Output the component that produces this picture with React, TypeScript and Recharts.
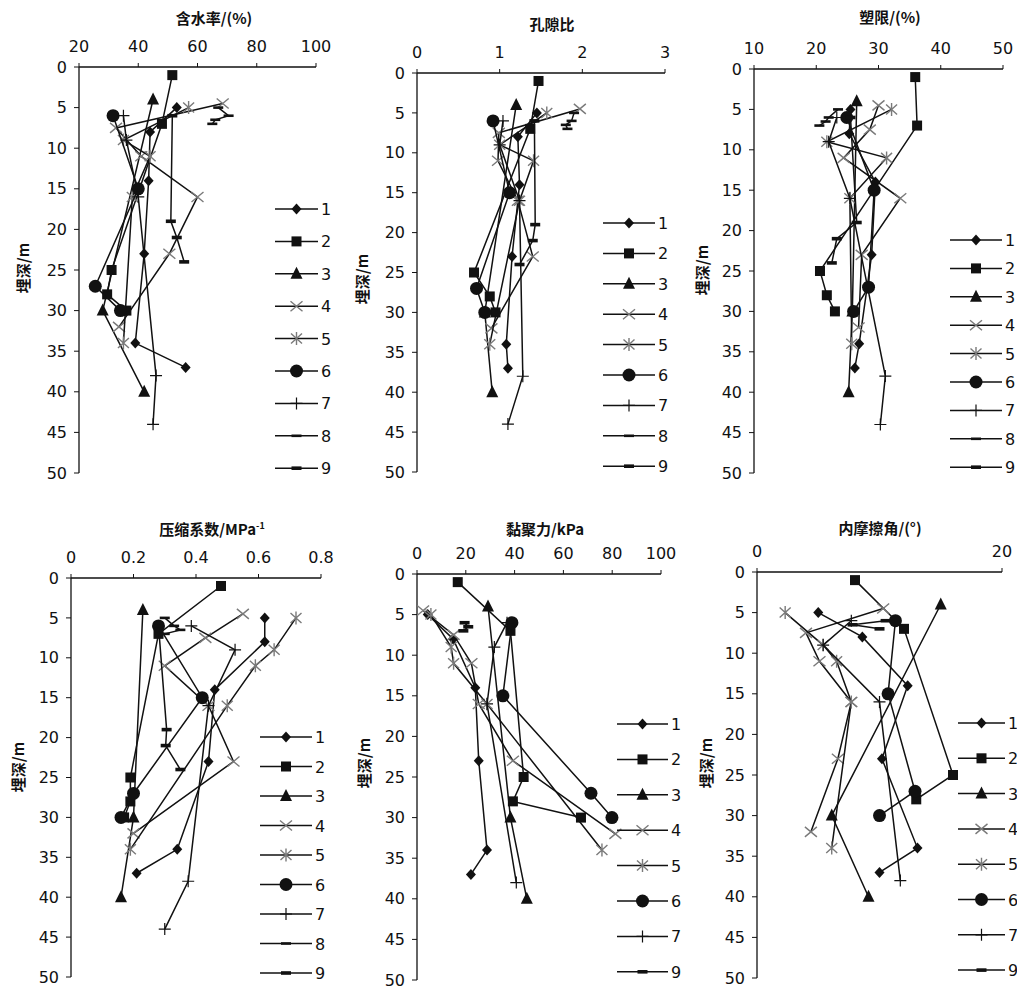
import React from "react";
import { ScatterChart, Scatter, XAxis, YAxis } from "recharts";

const NUM_FONT = "'DejaVu Sans', Verdana, sans-serif";
const CJK_FONT = "'Noto Sans CJK SC', 'Noto Sans', sans-serif";
const INK = "#111";
const GREY = "#7a7a7a";

// depth (m) of each sample, per borehole series 1..9
const DEPTH_1 = [5, 8, 14, 23, 34, 37];
const DEPTH_2 = [1, 7, 25, 28, 30];
const DEPTH_3 = [4, 30, 40];
const DEPTH_4 = [4.5, 7.5, 11, 16, 23, 32];
const DEPTH_5 = [5, 9, 11, 16, 34];
const DEPTH_6 = [6, 15, 27, 30];
const DEPTH_7 = [6, 9, 16, 38, 44];
const DEPTH_8 = [5, 6, 6.5, 7];
const DEPTH_9 = [6, 19, 21, 24];
const DEPTH_9_SHORT = [6, 6.5, 7];

// 含水率 (%)
const W_1 = [53, 44, 43.5, 42, 39, 56];
const W_2 = [51.5, 48, 31, 29.5, 36];
const W_3 = [45, 28, 42];
const W_4 = [68.5, 32.5, 41, 60, 50.5, 33.5];
const W_5 = [57, 35, 44, 38, 35];
const W_6 = [31.5, 40, 25.5, 34];
const W_7 = [35, 36, 40, 46, 45];
const W_8 = [67, 70.5, 66, 65];
const W_9 = [51.5, 51, 53, 55.5];

// 孔隙比
const E_1 = [1.45, 1.22, 1.24, 1.15, 1.08, 1.1];
const E_2 = [1.47, 1.37, 0.69, 0.88, 0.95];
const E_3 = [1.2, 0.82, 0.91];
const E_4 = [1.97, 0.99, 0.98, 1.22, 1.4, 0.9];
const E_5 = [1.57, 1.0, 1.41, 1.24, 0.88];
const E_6 = [0.92, 1.12, 0.72, 0.82];
const E_7 = [1.04, 1.0, 1.24, 1.28, 1.1];
const E_8 = [1.9, 1.87, 1.8, 1.82];
const E_9 = [1.42, 1.43, 1.4, 1.24];

// 塑限 (%)
const WP_1 = [25.5, 25.3, 29.5, 28.9, 26.9, 26.2];
const WP_2 = [35.9, 36.2, 20.6, 21.7, 23];
const WP_3 = [26.5, 25.8, 25.2];
const WP_4 = [30, 28.6, 24.4, 33.5, 27.3, 26.8];
const WP_5 = [32.1, 21.7, 31.3, 25.4, 25.7];
const WP_6 = [24.9, 29.3, 28.4, 26];
const WP_7 = [23.3, 22, 25.4, 31.1, 30.3];
const WP_8 = [23.5, 22, 21.5, 20.5];
const WP_9 = [25.5, 26.5, 23.3, 22.5];

// 压缩系数 (MPa-1)
const A_1 = [0.62, 0.62, 0.46, 0.44, 0.34, 0.21];
const A_2 = [0.48, 0.28, 0.19, 0.19, 0.17];
const A_3 = [0.23, 0.2, 0.16];
const A_4 = [0.55, 0.43, 0.3, 0.44, 0.52, 0.2];
const A_5 = [0.72, 0.65, 0.59, 0.5, 0.19];
const A_6 = [0.28, 0.42, 0.2, 0.16];
const A_7 = [0.385, 0.525, 0.44, 0.375, 0.3];
const A_8 = [0.3, 0.33, 0.35, 0.3];
const A_9 = [0.28, 0.306, 0.303, 0.35];

// 黏聚力 (kPa)
const C_1 = [4.4, 14.8, 23.9, 25.3, 28.7, 22.1];
const C_2 = [16.7, 38.3, 43.7, 39.3, 67.2];
const C_3 = [29.1, 38.3, 45];
const C_4 = [2.5, 15, 22.3, 25.3, 39.3, 81.3];
const C_5 = [5.7, 14, 15, 28.7, 75.8];
const C_6 = [38.9, 35.2, 71.3, 79.9];
const C_7 = [36.9, 31.7, 28.7, 40.7, null];
const C_9 = [19.5, 21, 19];

// 内摩擦角 (°)
const F_1 = [5, 8.6, 12.3, 10.2, 13.1, 10];
const F_2 = [8, 12, 16, 13, null];
const F_3 = [15, 6.1, 9.1];
const F_4 = [10.3, 4, 5.1, 7.7, 6.6, 4.4];
const F_5 = [2.3, 5.4, 6.5, 7.7, 6.1];
const F_6 = [11.3, 10.7, 12.9, 10];
const F_7 = [7.7, 5.4, 10, 11.7, null];
const F_9 = [10.5, 7.8, 10];

type Vals = (number | null)[];
type Series = { id: number; depth: number[]; vals: Vals };
type Panel = {
  key: string;
  title: React.ReactNode;
  domain: [number, number];
  ticks: number[];
  box: { l: number; r: number; t: number; b: number };
  titleAt: [number, number];
  yLabelAt: [number, number];
  legend: { x: number; y: number; step: number; len: number; ids: number[] };
  series: Series[];
};

const DEPTH_TICKS = [0, 5, 10, 15, 20, 25, 30, 35, 40, 45, 50];
const ALL_IDS = [1, 2, 3, 4, 5, 6, 7, 8, 9];
const NO_8 = [1, 2, 3, 4, 5, 6, 7, 9];

const std = (v: Vals[]): Series[] =>
  [DEPTH_1, DEPTH_2, DEPTH_3, DEPTH_4, DEPTH_5, DEPTH_6, DEPTH_7, DEPTH_8, DEPTH_9]
    .map((depth, i) => ({ id: i + 1, depth, vals: v[i] }))
    .filter((s) => s.vals);

const PANELS: Panel[] = [
  {
    key: "w",
    title: "含水率/(%)",
    domain: [20, 100],
    ticks: [20, 40, 60, 80, 100],
    box: { l: 79, r: 316, t: 67, b: 473 },
    titleAt: [214, 17],
    yLabelAt: [22, 268],
    legend: { x: 275, y: 209, step: 32.4, len: 43, ids: ALL_IDS },
    series: std([W_1, W_2, W_3, W_4, W_5, W_6, W_7, W_8, W_9]),
  },
  {
    key: "e",
    title: "孔隙比",
    domain: [0, 3],
    ticks: [0, 1, 2, 3],
    box: { l: 417, r: 665, t: 73, b: 472 },
    titleAt: [552, 23],
    yLabelAt: [361, 279],
    legend: { x: 603, y: 223, step: 30.4, len: 52, ids: ALL_IDS },
    series: std([E_1, E_2, E_3, E_4, E_5, E_6, E_7, E_8, E_9]),
  },
  {
    key: "wp",
    title: "塑限/(%)",
    domain: [10, 50],
    ticks: [10, 20, 30, 40, 50],
    box: { l: 754, r: 1003, t: 69, b: 473 },
    titleAt: [890, 16],
    yLabelAt: [701, 270],
    legend: { x: 950, y: 240, step: 28.4, len: 52, ids: ALL_IDS },
    series: std([WP_1, WP_2, WP_3, WP_4, WP_5, WP_6, WP_7, WP_8, WP_9]),
  },
  {
    key: "a",
    title: (
      <span>
        压缩系数/MPa<sup style={{ fontSize: 9 }}>-1</sup>
      </span>
    ),
    domain: [0, 0.8],
    ticks: [0, 0.2, 0.4, 0.6, 0.8],
    box: { l: 71, r: 321, t: 578, b: 977 },
    titleAt: [212, 528],
    yLabelAt: [17, 767],
    legend: { x: 260, y: 737, step: 29.5, len: 52, ids: ALL_IDS },
    series: std([A_1, A_2, A_3, A_4, A_5, A_6, A_7, A_8, A_9]),
  },
  {
    key: "c",
    title: "黏聚力/kPa",
    domain: [0, 100],
    ticks: [0, 20, 40, 60, 80, 100],
    box: { l: 417, r: 661, t: 574, b: 980 },
    titleAt: [545, 528],
    yLabelAt: [363, 763],
    legend: { x: 617, y: 724, step: 35.4, len: 51, ids: NO_8 },
    series: [
      ...std([C_1, C_2, C_3, C_4, C_5, C_6, C_7]),
      { id: 9, depth: DEPTH_9_SHORT, vals: C_9 },
    ],
  },
  {
    key: "f",
    title: "内摩擦角/(°)",
    domain: [0, 20],
    ticks: [0, 20],
    box: { l: 757, r: 1002, t: 572, b: 978 },
    titleAt: [880, 527],
    yLabelAt: [705, 763],
    legend: { x: 958, y: 723, step: 35.3, len: 47, ids: NO_8 },
    series: [
      ...std([F_1, F_2, F_3, F_4, F_5, F_6, F_7]),
      { id: 9, depth: DEPTH_9_SHORT, vals: F_9 },
    ],
  },
];

// one marker glyph per series
function Marker({ id, cx, cy }: { id: number; cx: number; cy: number }) {
  if (cx == null || cy == null) return null;
  switch (id) {
    case 1:
      return <polygon points={`${cx},${cy - 5.5} ${cx + 5},${cy} ${cx},${cy + 5.5} ${cx - 5},${cy}`} fill={INK} />;
    case 2:
      return <rect x={cx - 5} y={cy - 5} width={10} height={10} fill={INK} />;
    case 3:
      return <polygon points={`${cx},${cy - 7} ${cx + 6},${cy + 5} ${cx - 6},${cy + 5}`} fill={INK} />;
    case 4:
      return (
        <path
          d={`M${cx - 6},${cy - 5}L${cx + 6},${cy + 5}M${cx - 6},${cy + 5}L${cx + 6},${cy - 5}`}
          stroke={GREY}
          strokeWidth={1.4}
        />
      );
    case 5:
      return (
        <path
          d={`M${cx - 5.5},${cy - 5}L${cx + 5.5},${cy + 5}M${cx - 5.5},${cy + 5}L${cx + 5.5},${cy - 5}M${cx},${cy - 6.5}L${cx},${cy + 6.5}`}
          stroke={GREY}
          strokeWidth={1.4}
        />
      );
    case 6:
      return <circle cx={cx} cy={cy} r={6.5} fill={INK} />;
    case 7:
      return (
        <path d={`M${cx - 6},${cy}L${cx + 6},${cy}M${cx},${cy - 6}L${cx},${cy + 6}`} stroke={INK} strokeWidth={1.2} />
      );
    case 8:
      return <rect x={cx - 5} y={cy - 1.3} width={10} height={2.6} fill={INK} />;
    default:
      return <rect x={cx - 5} y={cy - 1.8} width={10} height={3.6} fill={INK} />;
  }
}

function ProfilePanel({ p }: { p: Panel }) {
  const { l, r, t, b } = p.box;
  const tickStyle = { fontSize: 16, fill: INK, fontFamily: NUM_FONT };
  return (
    <div style={{ position: "absolute", left: l - 60, top: t - 60 }}>
      <ScatterChart
        width={r - l + 80}
        height={b - t + 80}
        margin={{ top: 30, left: 20, right: 20, bottom: 20 }}
      >
        <XAxis
          type="number"
          dataKey="v"
          orientation="top"
          domain={p.domain}
          ticks={p.ticks}
          interval={0}
          allowDataOverflow
          height={30}
          tick={tickStyle}
          tickSize={4}
          tickMargin={11}
          axisLine={{ stroke: INK, strokeWidth: 1.3 }}
          tickLine={{ stroke: INK }}
        />
        <YAxis
          type="number"
          dataKey="d"
          domain={[0, 50]}
          ticks={DEPTH_TICKS}
          interval={0}
          reversed
          allowDataOverflow
          width={40}
          tick={tickStyle}
          tickSize={5}
          tickMargin={7}
          axisLine={{ stroke: INK, strokeWidth: 1.3 }}
          tickLine={{ stroke: INK }}
        />
        {p.series.map((s) => (
          <Scatter
            key={s.id}
            name={String(s.id)}
            data={s.depth
              .map((d, i) => ({ d, v: s.vals[i] }))
              .filter((pt) => pt.v != null)}
            line={{ stroke: INK, strokeWidth: 1.5 }}
            lineType="joint"
            shape={(props: any) => <Marker id={s.id} cx={props.cx} cy={props.cy} />}
            isAnimationActive={false}
          />
        ))}
      </ScatterChart>
    </div>
  );
}

export default function App() {
  return (
    <div
      style={{
        position: "fixed",
        left: 0,
        top: 0,
        width: 1017,
        height: 990,
        background: "#fff",
        overflow: "hidden",
      }}
    >
      {PANELS.map((p) => (
        <ProfilePanel key={p.key} p={p} />
      ))}

      {/* titles and depth labels */}
      {PANELS.map((p) => (
        <React.Fragment key={p.key + "-txt"}>
          <div
            style={{
              position: "absolute",
              left: p.titleAt[0],
              top: p.titleAt[1],
              transform: "translate(-50%, -50%)",
              fontFamily: CJK_FONT,
              fontSize: 15,
              fontWeight: 600,
              color: INK,
              whiteSpace: "nowrap",
            }}
          >
            {p.title}
          </div>
          <div
            style={{
              position: "absolute",
              left: p.yLabelAt[0],
              top: p.yLabelAt[1],
              transform: "translate(-50%, -50%) rotate(-90deg)",
              fontFamily: CJK_FONT,
              fontSize: 15,
              fontWeight: 600,
              color: INK,
              whiteSpace: "nowrap",
            }}
          >
            埋深/m
          </div>
        </React.Fragment>
      ))}

      {/* legends */}
      <svg width={1017} height={990} style={{ position: "absolute", left: 0, top: 0, pointerEvents: "none" }}>
        {PANELS.map((p) =>
          p.legend.ids.map((id, i) => {
            const y = p.legend.y + i * p.legend.step;
            const x0 = p.legend.x;
            const x1 = x0 + p.legend.len;
            return (
              <g key={p.key + "-lg" + id}>
                <line x1={x0} x2={x1} y1={y} y2={y} stroke={INK} strokeWidth={1.5} />
                <Marker id={id} cx={(x0 + x1) / 2} cy={y} />
                <text x={x1 + 3} y={y + 6} fontSize={16} fontFamily={NUM_FONT} fill={INK}>
                  {id}
                </text>
              </g>
            );
          })
        )}
      </svg>
    </div>
  );
}
